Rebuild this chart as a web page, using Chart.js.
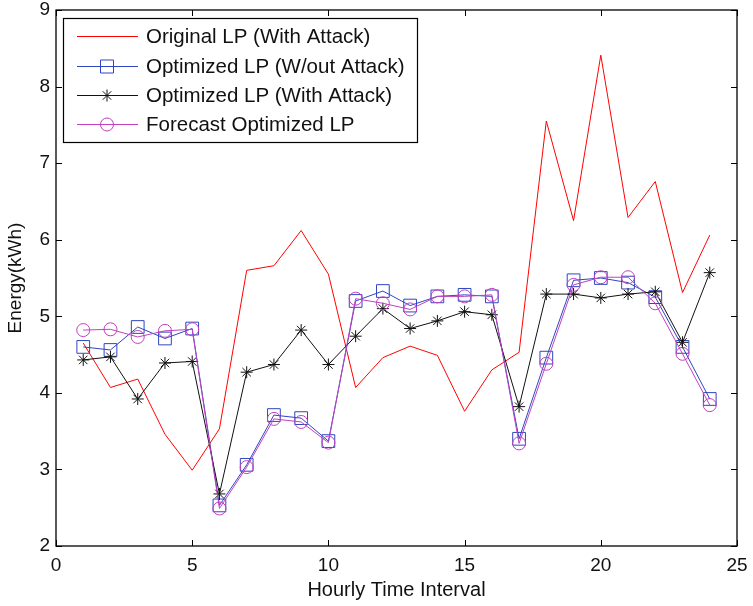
<!DOCTYPE html>
<html>
<head>
<meta charset="utf-8">
<script src="https://cdn.jsdelivr.net/npm/chart.js@4.4.0/dist/chart.umd.min.js"></script>
<style>
  html, body { margin: 0; padding: 0; background: #fff; }
  #wrap { width: 753px; height: 606px; }
</style>
</head>
<body>
<div id="wrap"><canvas id="lp" width="753" height="606"></canvas></div>
<script>
// hourly load profiles
var hours = [1,2,3,4,5,6,7,8,9,10,11,12,13,14,15,16,17,18,19,20,21,22,23,24];
var originalAttack = [4.65,4.07,4.18,3.46,2.99,3.53,5.60,5.66,6.12,5.55,4.07,4.46,4.61,4.49,3.76,4.30,4.53,7.55,6.25,8.41,6.29,6.76,5.31,6.06];
var optNoAttack = [4.60,4.56,4.86,4.71,4.84,2.53,3.06,3.71,3.67,3.37,5.20,5.33,5.14,5.26,5.28,5.26,3.40,4.46,5.47,5.50,5.44,5.25,4.60,3.92];
var optAttack = [4.43,4.47,3.92,4.39,4.41,2.68,4.27,4.37,4.82,4.37,4.74,5.10,4.84,4.94,5.06,5.02,3.82,5.29,5.29,5.24,5.29,5.32,4.66,5.57];
var forecastOpt = [4.82,4.83,4.73,4.81,4.83,2.49,3.03,3.66,3.62,3.35,5.23,5.17,5.09,5.26,5.26,5.28,3.34,4.38,5.41,5.51,5.51,5.17,4.51,3.84];

var xTicks = [0,5,10,15,20,25];
var yTicks = [2,3,4,5,6,7,8,9];

var seriesNames = ["Original LP (With Attack)", "Optimized LP (W/out Attack)", "Optimized LP (With Attack)", "Forecast Optimized LP"];
var seriesColors = ["#ff0000", "#2f45c0", "#111111", "#c040c0"];
var seriesMarkers = ["none", "rect", "star", "circle"];

function pts(arr) {
  return hours.map(function (h, i) { return {x: h, y: arr[i]}; });
}

var FONT = "'Liberation Sans', Arial, sans-serif";

// draws a marker by hand (used for the legend)
function marker(ctx, kind, x, y) {
  ctx.beginPath();
  if (kind === "rect") {
    ctx.rect(x - 6.5, y - 6.5, 13, 13);
  } else if (kind === "circle") {
    ctx.arc(x, y, 6.5, 0, Math.PI * 2);
  } else if (kind === "star") {
    var r = 6;
    for (var a = 0; a < 4; a++) {
      var ang = a * Math.PI / 4;
      ctx.moveTo(x - Math.cos(ang) * r, y - Math.sin(ang) * r);
      ctx.lineTo(x + Math.cos(ang) * r, y + Math.sin(ang) * r);
    }
  }
  ctx.stroke();
}

var boxPlugin = {
  id: "matlabBox",
  afterDatasetsDraw: function (chart) {
    var ctx = chart.ctx, a = chart.chartArea;
    var xs = chart.scales.x, ys = chart.scales.y;
    ctx.save();
    ctx.strokeStyle = "#000";
    ctx.lineWidth = 1.3;
    ctx.strokeRect(a.left, a.top, a.right - a.left, a.bottom - a.top);
    ctx.lineWidth = 1;
    ctx.beginPath();
    xTicks.forEach(function (t) {
      var px = Math.round(xs.getPixelForValue(t)) + 0.5;
      ctx.moveTo(px, a.bottom); ctx.lineTo(px, a.bottom - 6);
      ctx.moveTo(px, a.top); ctx.lineTo(px, a.top + 6);
    });
    yTicks.forEach(function (t) {
      var py = Math.round(ys.getPixelForValue(t)) + 0.5;
      ctx.moveTo(a.left, py); ctx.lineTo(a.left + 6, py);
      ctx.moveTo(a.right, py); ctx.lineTo(a.right - 6, py);
    });
    ctx.stroke();
    ctx.restore();
  },
  afterDraw: function (chart) {
    var ctx = chart.ctx;
    ctx.save();
    ctx.fillStyle = "#fff";
    ctx.fillRect(63, 18, 354, 124);
    ctx.strokeStyle = "#000";
    ctx.lineWidth = 1.2;
    ctx.strokeRect(63.5, 18.5, 354, 124);
    var rowY = [36, 66, 95, 124];
    ctx.font = "20.5px " + FONT;
    ctx.textBaseline = "middle";
    for (var i = 0; i < seriesNames.length; i++) {
      ctx.strokeStyle = seriesColors[i];
      ctx.lineWidth = 1;
      ctx.beginPath();
      ctx.moveTo(77, rowY[i] + 0.5);
      ctx.lineTo(138, rowY[i] + 0.5);
      ctx.stroke();
      marker(ctx, seriesMarkers[i], 107, rowY[i] + 0.5);
      ctx.fillStyle = "#111";
      ctx.fillText(seriesNames[i], 146, rowY[i] + 1);
    }
    ctx.restore();
  }
};

function ds(i, arr, style, radius, order) {
  return {
    label: seriesNames[i],
    data: pts(arr),
    borderColor: seriesColors[i],
    backgroundColor: "rgba(0,0,0,0)",
    borderWidth: 1,
    pointStyle: style,
    pointRadius: radius,
    pointBorderColor: seriesColors[i],
    pointBackgroundColor: "rgba(0,0,0,0)",
    pointBorderWidth: 1,
    tension: 0,
    order: order
  };
}

new Chart(document.getElementById("lp"), {
  type: "line",
  data: {
    datasets: [
      ds(0, originalAttack, false, 0, 4),
      ds(1, optNoAttack, "rect", 9, 3),
      ds(2, optAttack, "star", 6, 2),
      ds(3, forecastOpt, "circle", 6.5, 1)
    ]
  },
  options: {
    responsive: false,
    animation: false,
    devicePixelRatio: 1,
    layout: { padding: { left: 0, right: 16, top: 10, bottom: 0 } },
    plugins: { legend: { display: false }, tooltip: { enabled: false } },
    scales: {
      x: {
        type: "linear",
        min: 0, max: 25,
        afterFit: function (s) { s.height = 60; s.paddingLeft = 0; s.paddingRight = 0; },
        afterBuildTicks: function (s) { s.ticks = xTicks.map(function (v) { return {value: v}; }); },
        grid: { display: false, drawTicks: false },
        border: { display: false },
        ticks: { padding: 8, color: "#111", font: { family: FONT, size: 19 }, maxRotation: 0 },
        title: { display: true, text: "Hourly Time Interval", color: "#111", font: { family: FONT, size: 20 }, padding: { top: 0, bottom: 4 } }
      },
      y: {
        min: 2, max: 9,
        afterFit: function (s) { s.width = 56; s.paddingTop = 0; s.paddingBottom = 0; },
        afterBuildTicks: function (s) { s.ticks = yTicks.map(function (v) { return {value: v}; }); },
        grid: { display: false, drawTicks: false },
        border: { display: false },
        ticks: { padding: 6, color: "#111", font: { family: FONT, size: 19 } },
        title: { display: true, text: "Energy(kWh)", color: "#111", font: { family: FONT, size: 19 }, padding: { top: 4, bottom: 0 } }
      }
    }
  },
  plugins: [boxPlugin]
});
</script>
</body>
</html>
